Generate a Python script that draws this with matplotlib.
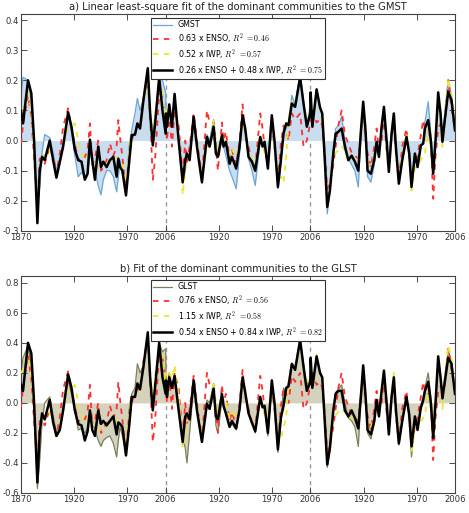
import numpy as np
import matplotlib
matplotlib.use('Agg')
import matplotlib.pyplot as plt

plt.rcParams['mathtext.fontset'] = 'cm'
plt.rcParams['font.family'] = ['DejaVu Sans']
plt.rcParams['axes.unicode_minus'] = False

# ---- axis positions (years since 1870, three 1870-2006 records placed side by side)
t_seg1 = [0, 1.9, 6.6, 9.7, 12.3, 15.4, 17.6, 19.8, 22.3, 27, 30.2, 33.3, 36.5, 39.6, 44.3,
          47.5, 50.6, 53.8, 56.9, 60, 62.6, 64.8, 67, 69.5, 72.6, 75.2, 77.4, 80.5, 83.6, 86.8,
          89.9, 91.5, 93.1, 95.3, 98.7, 101.9, 104.1, 107.2, 109.4, 111.9, 115.1, 119.2, 121.4,
          123.9, 126.1, 129.9, 133, 136]
t_seg2 = [136.3, 137.2, 139.4, 141.9, 144.4, 148.2, 152, 154.4, 156, 158.5, 162.3, 165.4, 170.1,
          174.8, 177.3, 181.1, 183.2, 185.1, 188.9, 190.4, 192.6, 196.1, 198.3, 202.3, 205.5,
          208.3, 210.8, 213.9, 217.1, 220.2, 224.9, 227.1, 229, 232.1, 235.8, 238.3, 241.5,
          244.3, 246.8, 249.3, 251.5, 254.6, 257.7, 262.4, 265.6, 268.7, 272]
t_seg3 = [272.3, 273.9, 277.9, 281.1, 283.2, 285.8, 287.9, 290.4, 293.6, 295.8, 298.3, 301.4,
          304.5, 307.7, 310.8, 313.9, 317.1, 319.6, 321.7, 323.9, 325.8, 328.9, 332.1, 334.3,
          336.5, 339, 341.2, 343.7, 345.8, 348.4, 350.5, 352.4, 355.2, 358.4, 362.4, 365, 367.1,
          370.3, 372.8, 375.9, 378.1, 379.7, 382.8, 385.3, 387.5, 389.7, 392.2, 394.4, 396.2,
          398.4, 401.6, 404.7, 408]

tick_pos = [0, 50, 100, 136, 186, 236, 272, 322, 372, 408]
tick_labels = ['1870', '1920', '1970', '2006', '1920', '1970', '2006', '1920', '1970', '2006']
boundaries = [136, 272]

# ---- panel a: GMST
gmst = [0.145, 0.21, 0.20, 0.135, -0.03, -0.22, -0.155, -0.04, 0.02, 0.01, -0.04, -0.099, -0.06, -0.01, 0.085,
        0.03, -0.05, -0.12, -0.105, -0.12, -0.11, -0.043, -0.07, -0.099, -0.15, -0.18, -0.13, -0.099, -0.10, -0.12,
        -0.17, -0.12, -0.065, -0.11, -0.15, -0.01, 0.035, 0.09, 0.14, 0.10, 0.14, 0.235, 0.10, 0.02, 0.08, 0.21, 0.20, 0.16,
        0.10, 0.06, 0.12, 0.05, 0.14, 0.0, -0.143, -0.10, -0.06, -0.04, 0.07, -0.02, -0.143, 0.02, 0.0, 0.07, -0.02,
        -0.05, 0.0, -0.02, -0.05, -0.10, -0.12, -0.16, -0.04, 0.08, 0.03, -0.06, -0.10, -0.149, 0.0, -0.02, -0.01,
        -0.09, 0.08, -0.01, -0.16, -0.08, 0.046, 0.04, 0.06, 0.15, 0.12, 0.225, 0.13, 0.05, 0.12,
        0.15, 0.05, 0.16, 0.11, 0.08, -0.09, -0.243, -0.17, -0.03, 0.04, 0.05, 0.08, 0.0, -0.06, -0.08, -0.10, -0.154,
        0.02, 0.12, 0.02, -0.12, -0.138, -0.08, -0.01, -0.05, 0.05, 0.11, 0.0, -0.10, 0.03, 0.09, -0.02, -0.14, -0.07,
        0.01, -0.05, -0.15, -0.05, -0.08, -0.02, -0.01, 0.06, 0.129, 0.02, -0.10, 0.0, 0.14, 0.10, 0.02, 0.09, 0.203,
        0.15, 0.05]
enso_a = [-0.01, 0.05, 0.15, 0.08, -0.06, -0.22, -0.06, -0.06, -0.077, -0.02, -0.054, -0.11, -0.043, 0.046, 0.107,
          0.04, -0.01, -0.065, -0.05, -0.055, -0.03, 0.057, -0.08, -0.06, 0.0, -0.10, -0.09, -0.065, -0.01, -0.05,
          -0.02, 0.068, 0.01, -0.054, -0.17, -0.04, 0.0, 0.035, 0.046, 0.046, 0.14, 0.20, 0.08, -0.13, -0.06, 0.157,
          0.145, 0.057,
          0.06, 0.0, 0.09, -0.02, 0.10, 0.05, -0.12, 0.0, -0.07, -0.02, 0.09, 0.0, -0.12, 0.10, 0.06, 0.06, -0.02,
          -0.10, 0.06, 0.0, 0.03, -0.06, -0.03, -0.08, 0.0, 0.12, 0.02, -0.02, -0.07, -0.09, 0.09, 0.04, -0.02, -0.08,
          0.06, -0.02, -0.13, -0.01, 0.05, 0.03, 0.0, 0.09, 0.07, 0.09, -0.02, 0.0, 0.06,
          0.06, 0.10, 0.06, 0.07, 0.05, -0.05, -0.16, -0.14, -0.08, -0.02, 0.05, 0.10, 0.02, -0.01, -0.04, -0.05,
          -0.06, 0.03, 0.09, 0.0, -0.04, -0.088, -0.02, 0.04, -0.03, 0.0, 0.08, -0.03, -0.088, 0.02, 0.068, -0.04,
          -0.132, -0.02, 0.04, -0.06, -0.143, -0.08, -0.05, 0.02, 0.068, 0.04, 0.035, 0.0, -0.193, -0.05, 0.04, 0.057,
          0.04, 0.057, 0.20, 0.11, 0.034]
iwp_a = [0.09, 0.11, 0.16, 0.10, -0.03, -0.2, -0.11, -0.06, -0.04, -0.03, -0.06, -0.12, -0.07, -0.02, 0.046,
         0.05, 0.057, 0.0, -0.04, -0.065, -0.055, -0.043, -0.065, -0.088, -0.085, -0.088, -0.08, -0.075, -0.07,
         -0.06, -0.054, -0.06, -0.065, -0.08, -0.154, -0.01, 0.015, 0.023, 0.03, 0.034, 0.13, 0.19, 0.09, 0.02, 0.09,
         0.18, 0.157, 0.057,
         0.10, 0.07, 0.10, 0.08, 0.13, 0.02, -0.18, -0.10, -0.06, -0.05, 0.07, 0.0, -0.12, -0.01, -0.03, 0.07, 0.0,
         -0.03, 0.02, 0.0, 0.01, -0.05, -0.03, -0.05, -0.02, 0.06, 0.03, -0.04, -0.06, -0.08, 0.02, -0.01, -0.04,
         -0.07, 0.07, 0.0, -0.13, -0.12, -0.14, -0.05, 0.07, 0.13, 0.12, 0.20, 0.12, 0.07, 0.08,
         0.09, 0.06, 0.168, 0.10, 0.06, -0.08, -0.20, -0.15, -0.054, -0.04, -0.032, -0.02, -0.03, -0.05, -0.05,
         -0.055, -0.06, 0.04, 0.112, 0.02, -0.077, -0.08, -0.05, -0.01, -0.04, 0.04, 0.10, 0.0, -0.088, 0.03, 0.10,
         -0.01, -0.12, -0.05, 0.023, -0.05, -0.166, -0.09, -0.08, -0.065, -0.05, -0.043, 0.034, -0.02, -0.10, 0.02,
         0.146, 0.06, -0.02, 0.08, 0.207, 0.15, 0.046]
fit_a = [0.10, 0.057, 0.20, 0.157, 0.0, -0.274, -0.10, -0.054, -0.065, 0.0, -0.065, -0.123, -0.07, -0.02, 0.094,
         0.045, -0.03, -0.065, -0.07, -0.13, -0.11, 0.003, -0.065, -0.13, -0.02, -0.088, -0.07, -0.088, -0.065,
         -0.054, -0.12, -0.06, -0.088, -0.10, -0.182, -0.065, 0.018, 0.02, 0.057, 0.04, 0.134, 0.24, 0.09, -0.016,
         0.057, 0.21, 0.10, 0.023,
         0.09, 0.046, 0.12, 0.046, 0.155, 0.0, -0.138, -0.065, -0.043, -0.065, 0.08, -0.02, -0.138, 0.012, -0.02,
         0.046, -0.043, -0.054, 0.018, -0.02, -0.004, -0.077, -0.054, -0.093, -0.02, 0.084, 0.04, -0.054, -0.07,
         -0.10, 0.012, -0.02, -0.004, -0.093, 0.084, 0.0, -0.154, -0.065, 0.023, 0.057, 0.051, 0.123, 0.112, 0.21,
         0.123, 0.046, 0.09,
         0.16, 0.046, 0.17, 0.11, 0.09, -0.077, -0.22, -0.166, -0.043, 0.023, 0.029, 0.04, -0.02, -0.065, -0.05,
         -0.07, -0.10, 0.034, 0.129, 0.034, -0.10, -0.11, -0.065, -0.004, -0.054, 0.046, 0.112, 0.0, -0.104, 0.023,
         0.09, -0.02, -0.143, -0.065, 0.012, -0.043, -0.154, -0.043, -0.088, -0.016, -0.01, 0.04, 0.068, 0.0, -0.11,
         0.0, 0.16, 0.09, -0.004, 0.068, 0.162, 0.134, 0.034]

# ---- panel b: GLST
glst = [0.19, 0.30, 0.38, 0.25, -0.05, -0.57, -0.38, -0.12, 0.0, 0.04, -0.08, -0.20, -0.16, -0.06, 0.15,
        0.06, -0.05, -0.18, -0.17, -0.20, -0.17, -0.07, -0.12, -0.18, -0.25, -0.29, -0.25, -0.23, -0.22, -0.27,
        -0.36, -0.25, -0.16, -0.22, -0.33, -0.02, 0.06, 0.10, 0.26, 0.20, 0.25, 0.45, 0.14, -0.02, 0.12, 0.40, 0.34,
        0.36,
        0.20, 0.10, 0.20, 0.12, 0.16, -0.04, -0.24, -0.30, -0.40, -0.20, 0.12, -0.04, -0.26, 0.02, 0.0, 0.13, -0.15,
        -0.20, 0.02, -0.02, -0.07, -0.16, -0.14, -0.18, -0.05, 0.16, 0.06, -0.06, -0.12, -0.20, 0.03, -0.02, -0.03,
        -0.22, 0.14, -0.01, -0.33, -0.12, 0.10, 0.05, 0.14, 0.26, 0.24, 0.42, 0.26, 0.12, 0.16,
        0.28, 0.10, 0.30, 0.20, 0.16, -0.17, -0.43, -0.32, -0.06, 0.07, 0.09, 0.12, 0.0, -0.10, -0.12, -0.16, -0.29,
        0.03, 0.23, 0.04, -0.20, -0.24, -0.14, 0.0, -0.08, 0.08, 0.20, 0.0, -0.20, 0.05, 0.17, -0.03, -0.28, -0.13,
        0.03, -0.10, -0.36, -0.12, -0.17, -0.04, 0.0, 0.10, 0.20, 0.04, -0.20, 0.0, 0.28, 0.18, 0.06, 0.18, 0.35,
        0.28, 0.08]
enso_b = [-0.03, 0.10, 0.32, 0.16, -0.12, -0.42, -0.12, -0.11, -0.15, -0.04, -0.11, -0.22, -0.09, 0.09, 0.21,
          0.08, -0.02, -0.13, -0.10, -0.11, -0.06, 0.12, -0.16, -0.12, 0.0, -0.20, -0.18, -0.13, -0.02, -0.10,
          -0.04, 0.14, 0.02, -0.11, -0.34, -0.08, 0.0, 0.07, 0.09, 0.09, 0.28, 0.42, 0.16, -0.26, -0.12, 0.36, 0.30,
          0.11,
          0.12, 0.0, 0.18, -0.04, 0.20, 0.10, -0.24, 0.0, -0.14, -0.04, 0.18, 0.0, -0.24, 0.20, 0.12, 0.12, -0.04,
          -0.20, 0.12, 0.0, 0.06, -0.12, -0.06, -0.16, 0.0, 0.22, 0.04, -0.04, -0.14, -0.18, 0.18, 0.08, -0.04,
          -0.16, 0.12, -0.04, -0.28, -0.02, 0.10, 0.06, 0.0, 0.18, 0.14, 0.20, -0.04, 0.0, 0.12,
          0.12, 0.20, 0.12, 0.14, 0.10, -0.10, -0.32, -0.28, -0.16, -0.04, 0.10, 0.20, 0.04, -0.02, -0.08, -0.10,
          -0.12, 0.06, 0.18, 0.0, -0.08, -0.18, -0.04, 0.08, -0.06, 0.0, 0.16, -0.06, -0.18, 0.04, 0.14, -0.08,
          -0.26, -0.04, 0.08, -0.12, -0.28, -0.16, -0.10, 0.04, 0.14, 0.08, 0.07, 0.0, -0.38, -0.10, 0.08, 0.11,
          0.08, 0.11, 0.36, 0.22, 0.07]
iwp_b = [0.20, 0.22, 0.31, 0.20, -0.06, -0.42, -0.22, -0.12, -0.08, -0.06, -0.12, -0.24, -0.14, -0.04, 0.09,
         0.10, 0.12, 0.0, -0.08, -0.13, -0.11, -0.09, -0.13, -0.18, -0.17, -0.18, -0.16, -0.15, -0.14, -0.12,
         -0.11, -0.12, -0.13, -0.16, -0.31, -0.02, 0.03, 0.05, 0.06, 0.07, 0.26, 0.38, 0.18, 0.04, 0.18, 0.36, 0.31,
         0.11,
         0.20, 0.14, 0.20, 0.16, 0.25, 0.04, -0.30, -0.22, -0.12, -0.10, 0.14, 0.0, -0.24, -0.02, -0.06, 0.14, 0.0,
         -0.06, 0.04, 0.0, 0.02, -0.10, -0.06, -0.10, -0.04, 0.12, 0.06, -0.08, -0.12, -0.16, 0.04, -0.02, -0.08,
         -0.14, 0.14, 0.0, -0.28, -0.24, -0.16, -0.10, 0.14, 0.26, 0.24, 0.40, 0.24, 0.14, 0.16,
         0.18, 0.12, 0.32, 0.20, 0.12, -0.16, -0.40, -0.30, -0.11, -0.08, -0.06, -0.04, -0.06, -0.10, -0.10, -0.11,
         -0.12, 0.08, 0.22, 0.04, -0.15, -0.16, -0.10, -0.02, -0.08, 0.08, 0.20, 0.0, -0.18, 0.06, 0.20, -0.02,
         -0.24, -0.10, 0.05, -0.10, -0.33, -0.18, -0.16, -0.13, -0.10, -0.09, 0.07, -0.04, -0.20, 0.04, 0.29, 0.12,
         -0.04, 0.16, 0.38, 0.30, 0.09]
fit_b = [0.12, 0.08, 0.40, 0.33, 0.0, -0.53, -0.20, -0.07, -0.11, 0.02, -0.13, -0.22, -0.18, -0.05, 0.19,
         0.10, -0.05, -0.14, -0.15, -0.25, -0.19, -0.05, -0.18, -0.22, -0.05, -0.14, -0.12, -0.15, -0.12, -0.09,
         -0.21, -0.13, -0.14, -0.16, -0.35, -0.14, 0.04, 0.04, 0.13, 0.09, 0.24, 0.47, 0.17, -0.05, 0.11, 0.40, 0.17,
         0.06,
         0.15, 0.04, 0.17, 0.10, 0.18, -0.05, -0.26, -0.09, -0.07, -0.11, 0.15, -0.05, -0.26, -0.005, -0.04, 0.095,
         -0.09, -0.11, 0.06, -0.02, -0.07, -0.16, -0.12, -0.17, -0.04, 0.17, 0.07, -0.07, -0.13, -0.19, 0.04, -0.03,
         -0.02, -0.20, 0.15, 0.0, -0.31, -0.10, -0.02, 0.10, 0.11, 0.26, 0.22, 0.42, 0.24, 0.08, 0.14,
         0.30, 0.10, 0.31, 0.20, 0.17, -0.15, -0.41, -0.30, -0.05, 0.06, 0.08, 0.08, -0.05, -0.09, -0.05, -0.10,
         -0.17, 0.05, 0.25, 0.05, -0.18, -0.21, -0.12, 0.02, -0.09, 0.08, 0.215, 0.0, -0.21, 0.04, 0.17, -0.04,
         -0.27, -0.12, 0.04, -0.08, -0.29, -0.09, -0.18, -0.03, 0.02, 0.08, 0.14, 0.0, -0.235, 0.0, 0.31, 0.17, 0.03,
         0.14, 0.30, 0.26, 0.06]

labels_a = ['GMST', r'0.63 x ENSO, $R^2$ $=0.46$', r'0.52 x IWP, $R^2$ $=0.57$',
            r'0.26 x ENSO + 0.48 x IWP, $R^2$ $=0.75$']
labels_b = ['GLST', r'0.76 x ENSO, $R^2$ $=0.56$', r'1.15 x IWP, $R^2$ $=0.58$',
            r'0.54 x ENSO + 0.84 x IWP, $R^2$ $=0.82$']
titles = ['a) Linear least-square fit of the dominant communities to the GMST',
          'b) Fit of the dominant communities to the GLST']

t = np.array(t_seg1 + t_seg2 + t_seg3)

fig = plt.figure(figsize=(4.69, 5.13), dpi=100)
ax1 = fig.add_axes([21 / 469, 1 - 231 / 513, 434 / 469, 217 / 513])
ax2 = fig.add_axes([21 / 469, 1 - 493 / 513, 434 / 469, 217 / 513])


def panel(ax, obs, enso, iwp, fit, labels, title, line_c, fill_c, ylim, yticks):
    obs = np.array(obs)
    for b in boundaries:
        ax.axvline(b, color='#999999', ls=(0, (3, 3)), lw=1.0, zorder=0)
    ax.fill_between(t, obs, 0, color=fill_c, lw=0, zorder=1)
    ax.plot(t, obs, color=line_c, lw=0.9, label=labels[0], zorder=2)
    ax.plot(t, enso, color='#ff3030', lw=1.3, dashes=(3, 3), label=labels[1], zorder=3)
    ax.plot(t, iwp, color='#e8e830', lw=1.3, dashes=(3, 3), label=labels[2], zorder=4)
    ax.plot(t, fit, color='black', lw=1.8, label=labels[3], zorder=5)
    ax.set_xlim(0, 408)
    ax.set_ylim(*ylim)
    ax.set_yticks(yticks)
    ax.set_xticks(tick_pos)
    ax.set_xticklabels(tick_labels)
    ax.tick_params(direction='in', top=True, right=True, length=4, width=0.6,
                   labelsize=6.1, pad=1.5, colors='#333333')
    for s in ax.spines.values():
        s.set_color('#444444')
        s.set_linewidth(0.8)
    ax.set_title(title, fontsize=7.2, pad=3, color='#222222')
    leg = ax.legend(loc='upper center', fontsize=5.7, fancybox=False, framealpha=1,
                    edgecolor='#333333', borderaxespad=0.5, handlelength=2.3,
                    borderpad=0.3, labelspacing=0.25)
    leg.get_frame().set_linewidth(0.8)
    leg.set_zorder(10)


panel(ax1, gmst, enso_a, iwp_a, fit_a, labels_a, titles[0], '#6aa6d8', '#c8ddf0',
      (-0.3, 0.42), [-0.3, -0.2, -0.1, 0.0, 0.1, 0.2, 0.3, 0.4])
panel(ax2, glst, enso_b, iwp_b, fit_b, labels_b, titles[1], '#7e7e5a', '#d4d2bc',
      (-0.6, 0.845), [-0.6, -0.4, -0.2, 0.0, 0.2, 0.4, 0.6, 0.8])

fig.savefig('out.png', dpi=100)
